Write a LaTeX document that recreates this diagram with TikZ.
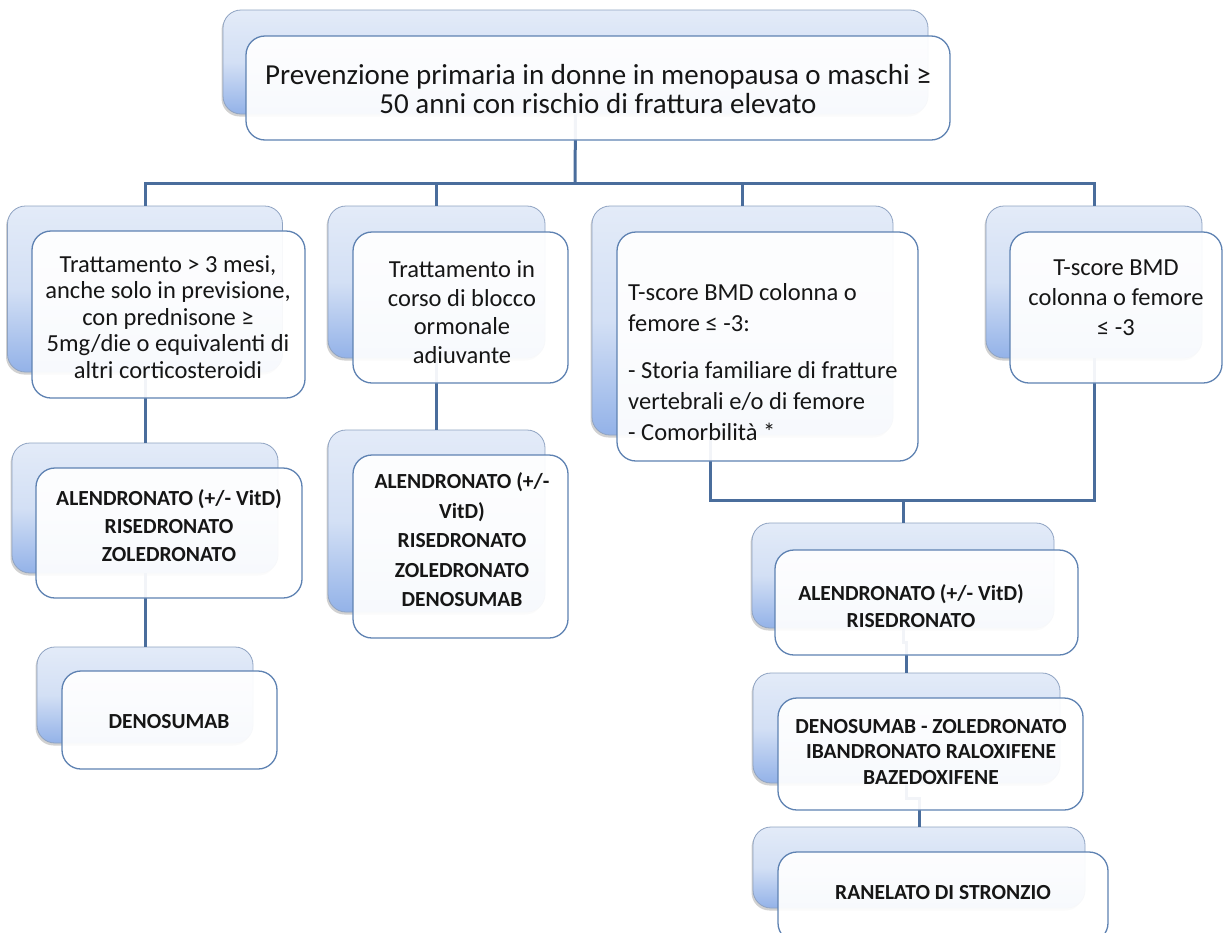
\documentclass[tikz,border=0pt]{standalone}
\usepackage{fontspec}
\setmainfont{Carlito}
\usetikzlibrary{shadows,calc}
\definecolor{bkTop}{HTML}{E3EBF8}
\definecolor{bkBot}{HTML}{93B2E8}
\definecolor{bkLine}{HTML}{8FA3C2}
\definecolor{frLine}{HTML}{5E82B2}
\definecolor{cnLine}{HTML}{4A6D9C}
\definecolor{txtc}{HTML}{161616}
\begin{document}
\begin{tikzpicture}[x=1pt,y=-1pt,
  back/.style={rectangle, rounded corners=18pt, draw=bkLine, line width=0.8pt,
    top color=bkTop, bottom color=bkBot, middle color=bkTop!80!bkBot, inner sep=0pt,
    drop shadow={shadow xshift=-1.5pt, shadow yshift=-2.5pt, opacity=0.3, fill=black!60}},
  front/.style={rectangle, rounded corners=19pt, draw=frLine, line width=1.3pt,
    fill=white, fill opacity=0.93, inner sep=0pt},
  conn/.style={draw=cnLine, line width=3pt},
  txt/.style={text=txtc, align=center, inner sep=0pt},
  reg/.style={txt, font=\fontsize{24.5}{26.5}\selectfont},
  bld/.style={txt, font=\fontsize{21.5}{28}\selectfont\bfseries}
]
\useasboundingbox (0,0) rectangle (1223,932);
\clip (0,0) rectangle (1223,932);

% back boxes
\node[back, minimum width=705pt, minimum height=104pt] (b0) at (575.5,62) {};
\node[back, minimum width=275pt, minimum height=166pt] (b1a) at (145,289) {};
\node[back, minimum width=266pt, minimum height=130pt] (b1b) at (145,508) {};
\node[back, minimum width=216pt, minimum height=96pt] (b1c) at (145,695) {};
\node[back, minimum width=217pt, minimum height=152pt] (b2a) at (436.5,282) {};
\node[back, minimum width=217pt, minimum height=182pt] (b2b) at (436.5,521) {};
\node[back, minimum width=301pt, minimum height=229pt] (b3a) at (742.5,320.5) {};
\node[back, minimum width=216pt, minimum height=152pt] (b4a) at (1094,282) {};
\node[back, minimum width=302pt, minimum height=105pt] (r1) at (903,575.5) {};
\node[back, minimum width=307pt, minimum height=110pt] (r2) at (906.5,728) {};
\node[back, minimum width=332pt, minimum height=81pt] (r3) at (919,867.5) {};

% connectors
\coordinate (bus) at (575,183);
\coordinate (bus2) at (903,500);
\draw[conn] (b0.south) -- (bus);
\draw[conn] (b1a.north) |- (bus) -| (b4a.north);
\draw[conn] (b2a.north) -- (b2a.north |- bus);
\draw[conn] (b3a.north) -- (b3a.north |- bus);
\draw[conn] (b1a.south) -- (b1b.north);
\draw[conn] (b1b.south) -- (b1c.north);
\draw[conn] (b2a.south) -- (b2b.north);
\draw[conn] ([xshift=-32.5pt]b3a.south) |- (bus2) -| (b4a.south);
\draw[conn] (bus2) -- (r1.north);
\draw[conn] (r1.south) -- ++(0,14) -| (r2.north);
\draw[conn] (r2.south) -- ++(0,15) -| (r3.north);

% front boxes
\node[front, minimum width=704pt, minimum height=104pt] (f0) at (598,88) {};
\node[front, minimum width=273pt, minimum height=167pt] (f1a) at (168.5,314.5) {};
\node[front, minimum width=266pt, minimum height=130pt] (f1b) at (169,533) {};
\node[front, minimum width=215pt, minimum height=98pt] (f1c) at (169.5,720) {};
\node[front, minimum width=215pt, minimum height=151pt] (f2a) at (460.5,307.5) {};
\node[front, minimum width=215pt, minimum height=183pt] (f2b) at (460.5,546.5) {};
\node[front, minimum width=301pt, minimum height=229pt] (f3a) at (767.5,346.5) {};
\node[front, minimum width=212pt, minimum height=151pt] (f4a) at (1116,307.5) {};
\node[front, minimum width=303pt, minimum height=105pt] (g1) at (926.5,602.5) {};
\node[front, minimum width=305pt, minimum height=112pt] (g2) at (930.5,754) {};
\node[front, minimum width=330pt, minimum height=90pt] (g3) at (943,897) {};

% texts
\node[txt, font=\fontsize{29}{28.5}\selectfont] (t0) at (598,89)
  {Prevenzione primaria in donne in menopausa o maschi ≥\\50 anni con rischio di frattura elevato};
\node[reg] (t1a) at (168,317)
  {Trattamento > 3 mesi,\\anche solo in previsione,\\con prednisone ≥\\5mg/die o equivalenti di\\altri corticosteroidi};
\node[bld] (t1b) at (169,526) {ALENDRONATO (+/- VitD)\\RISEDRONATO\\ZOLEDRONATO};
\node[bld] (t1c) at (169,722) {DENOSUMAB};
\node[txt, font=\fontsize{24.5}{28.5}\selectfont] (t2a) at (462,312)
  {Trattamento in\\corso di blocco\\ormonale\\adiuvante};
\node[bld, font=\fontsize{21.5}{29.5}\selectfont\bfseries] (t2b) at (462,540)
  {ALENDRONATO (+/-\\VitD)\\RISEDRONATO\\ZOLEDRONATO\\DENOSUMAB};
\node[txt, align=left, anchor=west, font=\fontsize{24.5}{31}\selectfont] (t3a) at (628,362)
  {T-score BMD colonna o\\femore ≤ -3:\\[16pt]- Storia familiare di fratture\\vertebrali e/o di femore\\- Comorbilità *};
\node[txt, font=\fontsize{24.5}{30}\selectfont] (t4a) at (1116,298)
  {T-score BMD\\colonna o femore\\≤ -3};
\node[bld, font=\fontsize{21.5}{27}\selectfont\bfseries] (t5) at (911,606)
  {ALENDRONATO (+/- VitD)\\RISEDRONATO};
\node[bld, font=\fontsize{21.5}{25.5}\selectfont\bfseries] (t6) at (931,752)
  {DENOSUMAB - ZOLEDRONATO\\IBANDRONATO RALOXIFENE\\BAZEDOXIFENE};
\node[bld] (t7) at (943,893) {RANELATO DI STRONZIO};
\end{tikzpicture}
\end{document}
